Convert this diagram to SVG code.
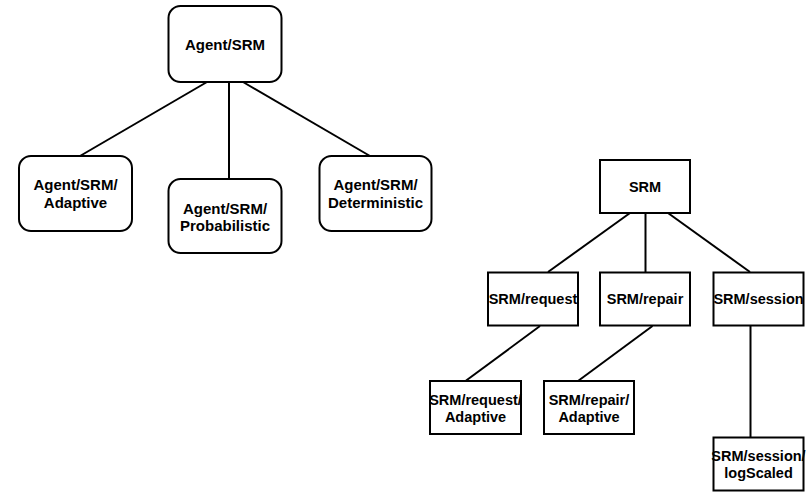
<svg xmlns="http://www.w3.org/2000/svg" width="809" height="493" viewBox="0 0 809 493">
  <style>
    .box { fill: #ffffff; stroke: #000000; stroke-width: 2; }
    .edge { stroke: #000000; stroke-width: 2; fill: none; }
    .lbl { font-family: "Liberation Sans", Arial, sans-serif; font-weight: bold; font-size: 15px; fill: #000000; text-anchor: middle; }
    .lbl2 { font-family: "Liberation Sans", Arial, sans-serif; font-weight: bold; font-size: 14.5px; fill: #000000; text-anchor: middle; }
  </style>
  <rect width="809" height="493" fill="#ffffff"/>

  <!-- connectors -->
  <g id="connectors">
    <line class="edge" x1="207" y1="82" x2="80" y2="156"/>
    <line class="edge" x1="229" y1="82" x2="229" y2="179"/>
    <line class="edge" x1="243" y1="82" x2="370" y2="156"/>
    <line class="edge" x1="630" y1="213" x2="548" y2="272"/>
    <line class="edge" x1="645.5" y1="213" x2="645.5" y2="272"/>
    <line class="edge" x1="668" y1="213" x2="750" y2="272"/>
    <line class="edge" x1="540" y1="326" x2="465.5" y2="381"/>
    <line class="edge" x1="652.5" y1="326" x2="578" y2="381"/>
    <line class="edge" x1="750.5" y1="326" x2="750.5" y2="437"/>
  </g>

  <!-- Agent/SRM hierarchy -->
  <g id="agent-srm">
    <rect class="box" x="168.5" y="6" width="113" height="76" rx="12"/>
    <text class="lbl" x="225" y="49.5">Agent/SRM</text>
  </g>
  <g id="agent-srm-adaptive">
    <rect class="box" x="19" y="156" width="113" height="75" rx="12"/>
    <text class="lbl" x="75.5" y="190">Agent/SRM/</text>
    <text class="lbl" x="75.5" y="208">Adaptive</text>
  </g>
  <g id="agent-srm-probabilistic">
    <rect class="box" x="168.5" y="179" width="113" height="74" rx="12"/>
    <text class="lbl" x="225" y="214">Agent/SRM/</text>
    <text class="lbl" x="225" y="231">Probabilistic</text>
  </g>
  <g id="agent-srm-deterministic">
    <rect class="box" x="319.5" y="156" width="112" height="75" rx="12"/>
    <text class="lbl" x="375.5" y="190">Agent/SRM/</text>
    <text class="lbl" x="375.5" y="208">Deterministic</text>
  </g>

  <!-- SRM hierarchy -->
  <g id="srm">
    <rect class="box" x="600" y="160" width="90" height="53"/>
    <text class="lbl2" x="645" y="192">SRM</text>
  </g>
  <g id="srm-request">
    <rect class="box" x="488" y="272.5" width="90" height="53"/>
    <text class="lbl2" x="533" y="304">SRM/request</text>
  </g>
  <g id="srm-repair">
    <rect class="box" x="600" y="272.5" width="90" height="53"/>
    <text class="lbl2" x="645" y="304">SRM/repair</text>
  </g>
  <g id="srm-session">
    <rect class="box" x="713.5" y="272.5" width="90" height="53"/>
    <text class="lbl2" x="758.5" y="304">SRM/session</text>
  </g>
  <g id="srm-request-adaptive">
    <rect class="box" x="430" y="381" width="91" height="53"/>
    <text class="lbl2" x="475.5" y="405">SRM/request/</text>
    <text class="lbl2" x="475.5" y="422">Adaptive</text>
  </g>
  <g id="srm-repair-adaptive">
    <rect class="box" x="544" y="381" width="90" height="53"/>
    <text class="lbl2" x="589" y="405">SRM/repair/</text>
    <text class="lbl2" x="589" y="422">Adaptive</text>
  </g>
  <g id="srm-session-logscaled">
    <rect class="box" x="713.5" y="437.5" width="90" height="53"/>
    <text class="lbl2" x="758.5" y="461">SRM/session/</text>
    <text class="lbl2" x="758.5" y="478">logScaled</text>
  </g>
</svg>
